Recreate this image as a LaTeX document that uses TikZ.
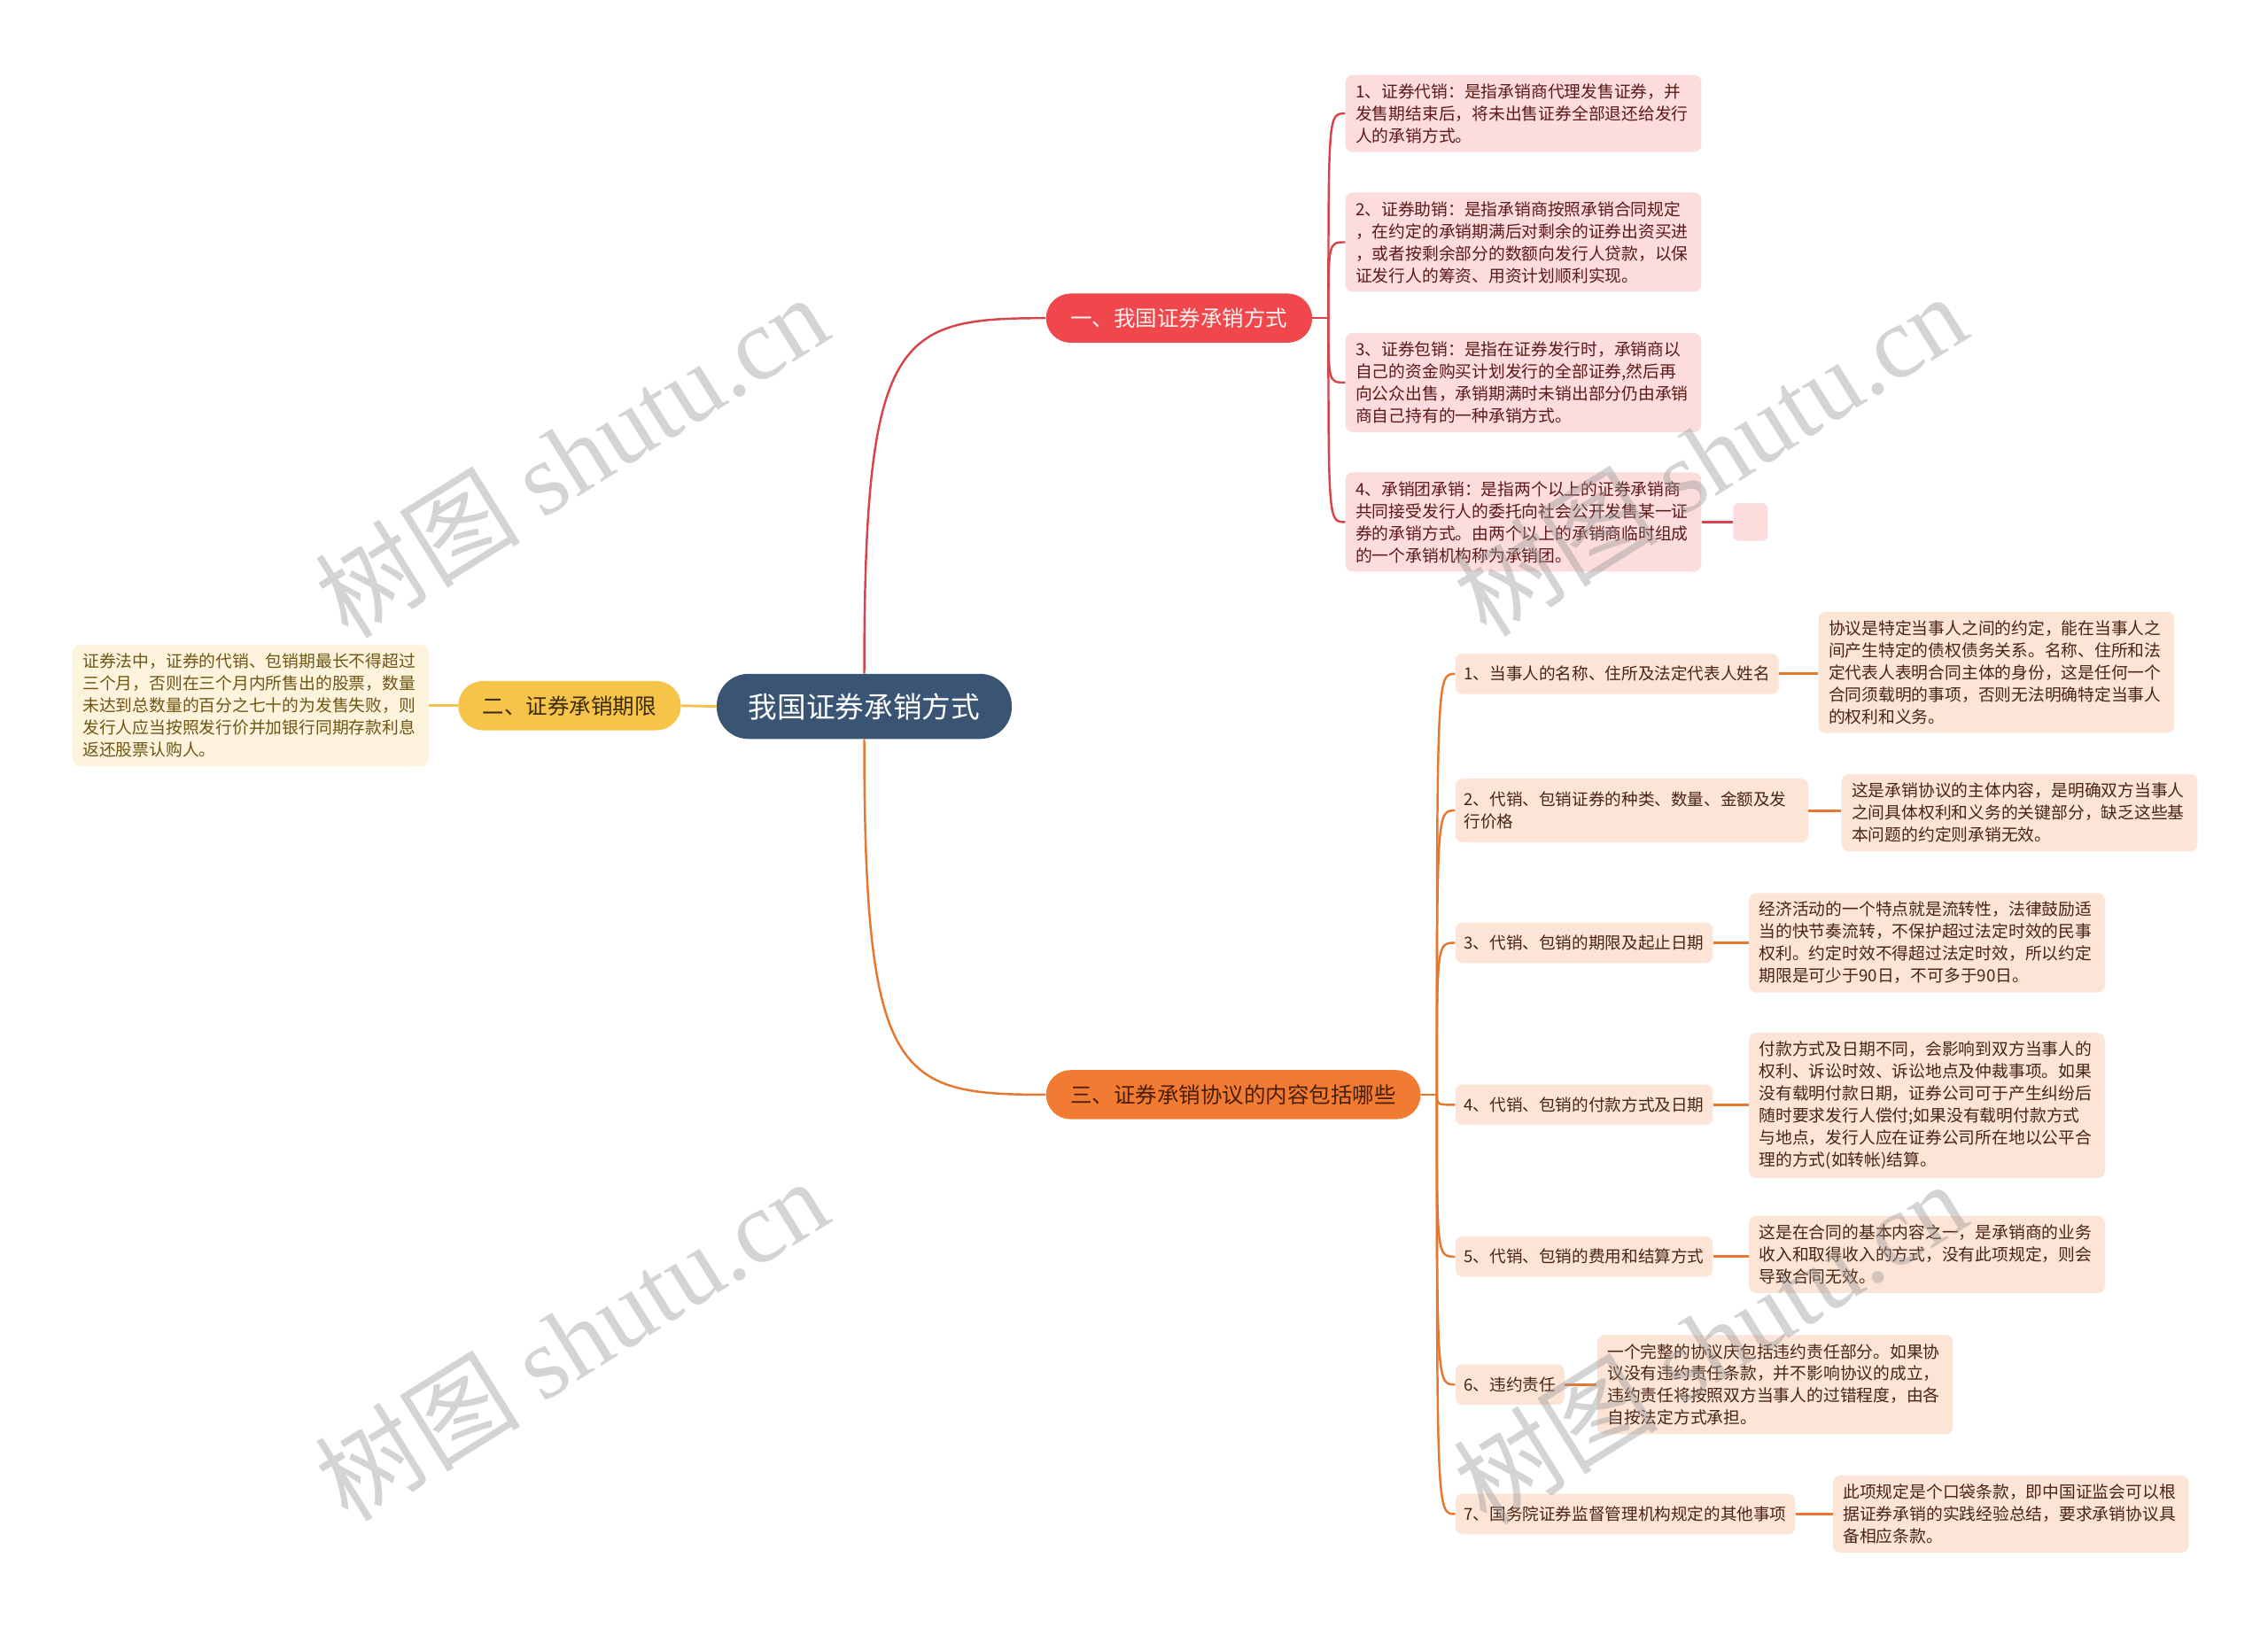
\documentclass[tikz,border=0pt]{standalone}
\usepackage{fontspec}
\setmainfont{Noto Sans CJK SC}
\newfontfamily\wmlatin{Liberation Serif}
\usetikzlibrary{calc}
\definecolor{rootfill}{HTML}{3A5574}
\definecolor{bonefill}{HTML}{F0474C}
\definecolor{boneline}{HTML}{D9444B}
\definecolor{bonetext}{HTML}{FFF0F0}
\definecolor{cfill}{HTML}{FCDCDC}
\definecolor{ctext}{HTML}{5E1818}
\definecolor{btwofill}{HTML}{F7C44A}
\definecolor{btwoline}{HTML}{F2C250}
\definecolor{btwotext}{HTML}{3B2B0B}
\definecolor{lfill}{HTML}{FEF4DD}
\definecolor{ltext}{HTML}{6E5514}
\definecolor{bthreefill}{HTML}{F17B32}
\definecolor{bthreeline}{HTML}{E5772F}
\definecolor{bthreetext}{HTML}{4A1E08}
\definecolor{sfill}{HTML}{FCE4D7}
\definecolor{stext}{HTML}{4A2410}
\definecolor{wmgray}{HTML}{9A9A9A}
\tikzset{
  rootbox/.style={fill=rootfill, text=white, rounded corners=22pt, minimum height=45pt, inner xsep=22pt, font=\fontsize{20}{24}\selectfont},
  branchbox/.style={rounded corners=17pt, minimum height=34pt, inner xsep=17pt, font=\fontsize{15}{18}\selectfont, anchor=west},
  leafbox/.style={rounded corners=5pt, text width=232pt, align=left, inner xsep=7pt, inner ysep=6pt, font=\fontsize{11.5}{15.3}\selectfont, anchor=west},
  subbox/.style={fill=sfill, text=stext, rounded corners=5pt, minimum height=28pt, inner xsep=6pt, inner ysep=7pt, font=\fontsize{11.4}{15.3}\selectfont, anchor=west},
  redleaf/.style={leafbox, fill=cfill, text=ctext},
  peachleaf/.style={leafbox, fill=sfill, text=stext},
  creamleaf/.style={leafbox, fill=lfill, text=ltext},
  redline/.style={draw=boneline, line width=1.5pt},
  yellowline/.style={draw=btwoline, line width=1.8pt},
  orangeline/.style={draw=bthreeline, line width=1.5pt},
  orangelink/.style={draw=bthreeline, line width=1.9pt},
  watermark/.style={text=wmgray, opacity=0.42, rotate=32, font=\fontsize{71}{76}\selectfont},
}
\begin{document}
\begin{tikzpicture}[x=1pt,y=-1pt]
\useasboundingbox (0,0) rectangle (1568,1125);
\fill[white] (0,0) rectangle (1568,1125);

% main nodes
\node[rootbox] (root) at (597.5,488.5) {我国证券承销方式};
\node[branchbox, fill=bonefill, text=bonetext] (b1) at (723,220) {一、我国证券承销方式};
\node[branchbox, fill=btwofill, text=btwotext, anchor=east] (b2) at (471,488) {二、证券承销期限};
\node[branchbox, fill=bthreefill, text=bthreetext] (b3) at (723,757) {三、证券承销协议的内容包括哪些};

% branch one children
\node[redleaf] (c1) at (930,78.5) {1、证券代销：是指承销商代理发售证券，并\\发售期结束后，将未出售证券全部退还给发行\\人的承销方式。};
\node[redleaf] (c2) at (930,167.5) {2、证券助销：是指承销商按照承销合同规定\\，在约定的承销期满后对剩余的证券出资买进\\，或者按剩余部分的数额向发行人贷款，以保\\证发行人的筹资、用资计划顺利实现。};
\node[redleaf] (c3) at (930,264.5) {3、证券包销：是指在证券发行时，承销商以\\自己的资金购买计划发行的全部证券,然后再\\向公众出售，承销期满时未销出部分仍由承销\\商自己持有的一种承销方式。};
\node[redleaf] (c4) at (930,361) {4、承销团承销：是指两个以上的证券承销商\\共同接受发行人的委托向社会公开发售某一证\\券的承销方式。由两个以上的承销商临时组成\\的一个承销机构称为承销团。};
\node[fill=cfill, rounded corners=4pt, minimum width=24pt, minimum height=26pt, inner sep=0pt, anchor=west] (e1) at (1198,361) {};

% branch two leaf
\node[creamleaf] (l1) at (50,488) {证券法中，证券的代销、包销期最长不得超过\\三个月，否则在三个月内所售出的股票，数量\\未达到总数量的百分之七十的为发售失败，则\\发行人应当按照发行价并加银行同期存款利息\\返还股票认购人。};

% branch three children
\node[subbox] (s1) at (1006,466) {1、当事人的名称、住所及法定代表人姓名};
\node[subbox, text width=232pt, align=left, inner ysep=9pt] (s2) at (1006,560.5) {2、代销、包销证券的种类、数量、金额及发\\行价格};
\node[subbox] (s3) at (1006,652) {3、代销、包销的期限及起止日期};
\node[subbox] (s4) at (1006,764) {4、代销、包销的付款方式及日期};
\node[subbox] (s5) at (1006,869) {5、代销、包销的费用和结算方式};
\node[subbox] (s6) at (1006,957.5) {6、违约责任};
\node[subbox] (s7) at (1006,1047) {7、国务院证券监督管理机构规定的其他事项};

\node[peachleaf] (d1) at (1257,465) {协议是特定当事人之间的约定，能在当事人之\\间产生特定的债权债务关系。名称、住所和法\\定代表人表明合同主体的身份，这是任何一个\\合同须载明的事项，否则无法明确特定当事人\\的权利和义务。};
\node[peachleaf] (d2) at (1273,562) {这是承销协议的主体内容，是明确双方当事人\\之间具体权利和义务的关键部分，缺乏这些基\\本问题的约定则承销无效。};
\node[peachleaf] (d3) at (1209,652) {经济活动的一个特点就是流转性，法律鼓励适\\当的快节奏流转，不保护超过法定时效的民事\\权利。约定时效不得超过法定时效，所以约定\\期限是可少于90日，不可多于90日。};
\node[peachleaf] (d4) at (1209,764.5) {付款方式及日期不同，会影响到双方当事人的\\权利、诉讼时效、诉讼地点及仲裁事项。如果\\没有载明付款日期，证券公司可于产生纠纷后\\随时要求发行人偿付;如果没有载明付款方式\\与地点，发行人应在证券公司所在地以公平合\\理的方式(如转帐)结算。};
\node[peachleaf] (d5) at (1209,867.5) {这是在合同的基本内容之一，是承销商的业务\\收入和取得收入的方式，没有此项规定，则会\\导致合同无效。};
\node[peachleaf] (d6) at (1104,957.5) {一个完整的协议庆包括违约责任部分。如果协\\议没有违约责任条款，并不影响协议的成立，\\违约责任将按照双方当事人的过错程度，由各\\自按法定方式承担。};
\node[peachleaf] (d7) at (1267,1047) {此项规定是个口袋条款，即中国证监会可以根\\据证券承销的实践经验总结，要求承销协议具\\备相应条款。};

% connectors root
\draw[redline] (root.north) .. controls ($(root.north|-b1.west)+(0,10)$) and ($(root.north|-b1.west)+(23,0)$) .. (b1.west);
\draw[orangeline] (root.south) .. controls ($(root.south|-b3.west)+(0,-10)$) and ($(root.south|-b3.west)+(23,0)$) .. (b3.west);
\draw[yellowline] (root.west) -- (b2.east);
\draw[yellowline] (b2.west) -- (l1.east);

% branch one bracket
\coordinate (j1) at ($(b1.east)+(11,0)$);
\draw[redline] (b1.east) -- (j1);
\foreach \c in {c1,c2,c3,c4}
  \draw[redline] (j1) .. controls (j1|-\c.west) and (j1|-\c.west) .. (\c.west);
\draw[redline] (c4.east) -- (e1.west);

% branch three bracket
\coordinate (j3) at ($(b3.east)+(11,0)$);
\draw[orangeline] (b3.east) -- (j3);
\foreach \s in {s1,s2,s3,s4,s5,s6,s7}
  \draw[orangeline] (j3) .. controls (j3|-\s.west) and (j3|-\s.west) .. (\s.west);
\foreach \s/\d in {s1/d1,s2/d2,s3/d3,s4/d4,s5/d5,s6/d6,s7/d7}
  \draw[orangelink] (\s.east) -- (\s.east-|\d.west);

% watermarks
\node[watermark] (w1) at (395,315) {树图 {\wmlatin shutu.cn}};
\node[watermark] (w2) at (1182,314) {树图 {\wmlatin shutu.cn}};
\node[watermark] (w3) at (395,926) {树图 {\wmlatin shutu.cn}};
\node[watermark] (w4) at (1182,928) {树图 {\wmlatin shutu.cn}};
\end{tikzpicture}
\end{document}
